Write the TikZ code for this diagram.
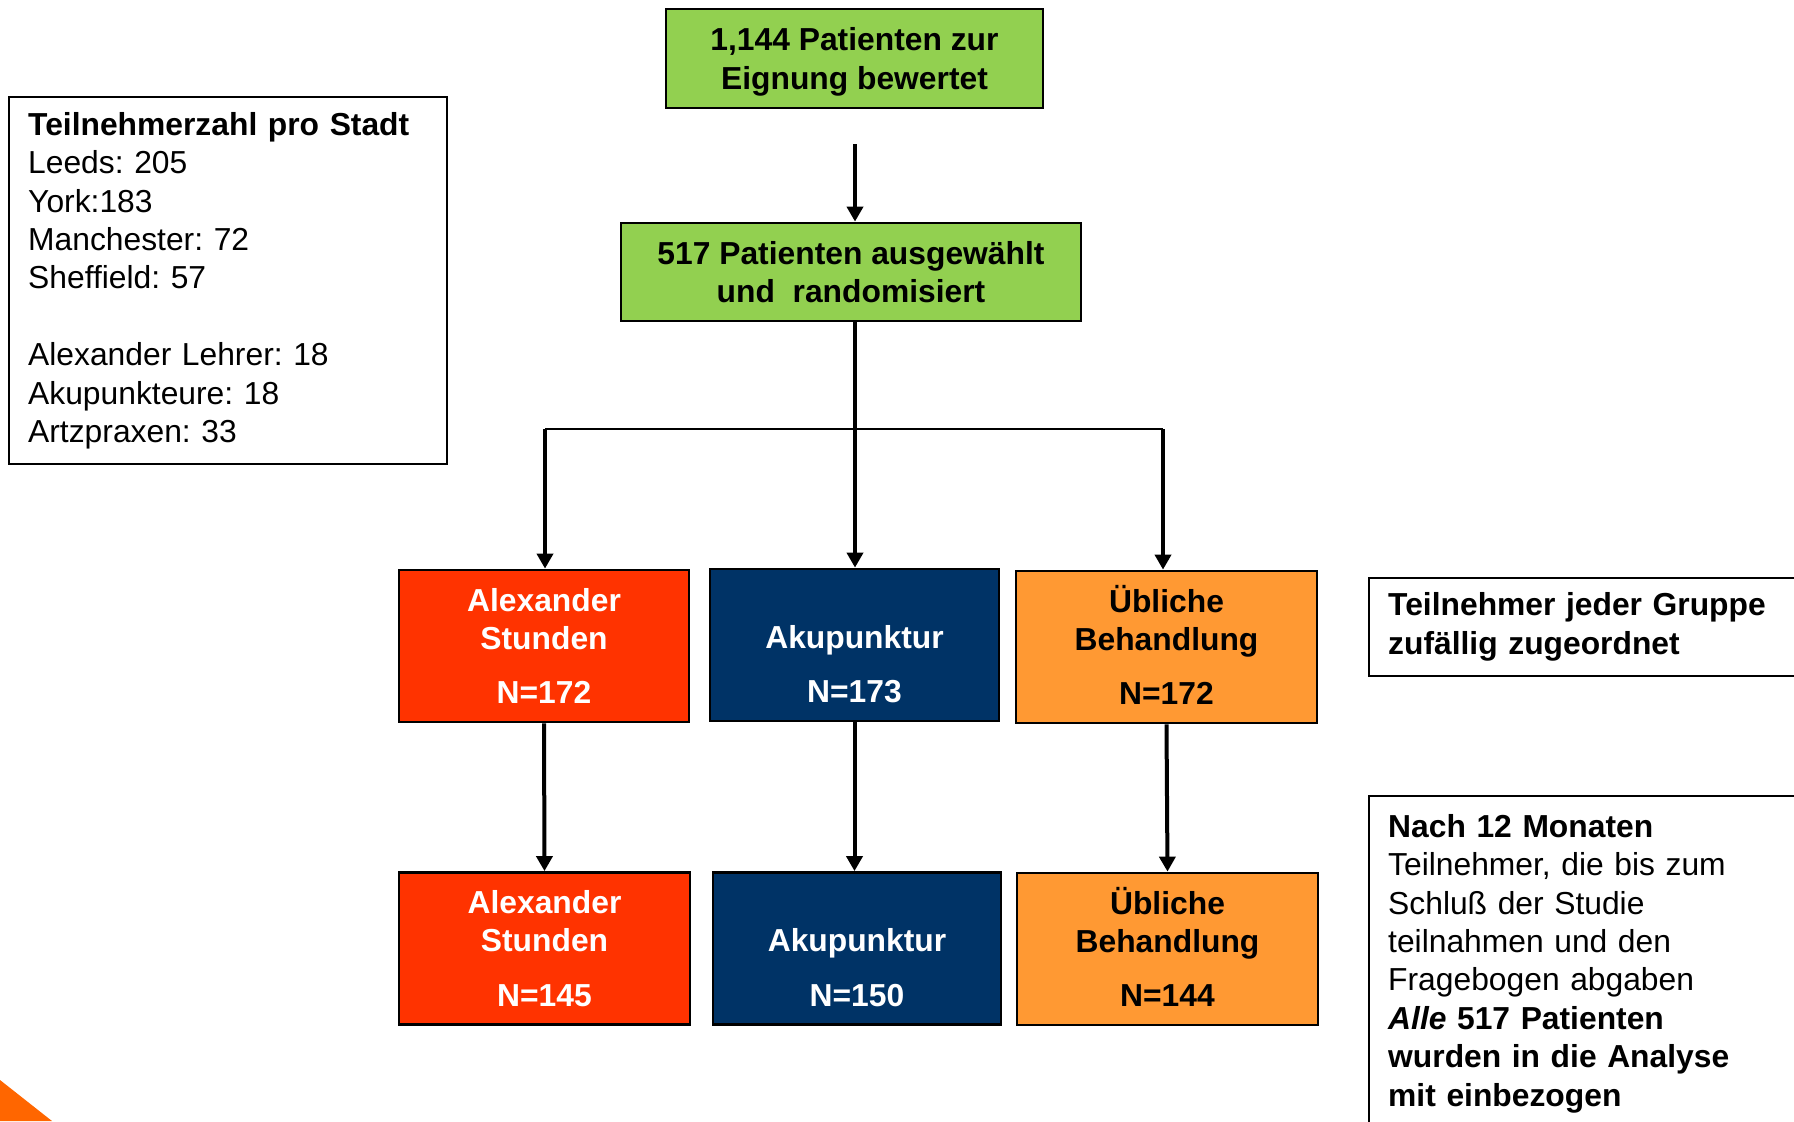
\documentclass[tikz,border=0pt]{standalone}
\usepackage{fontspec}
\setmainfont{Liberation Sans}
\usetikzlibrary{arrows.meta}
\frenchspacing
\definecolor{alexred}{HTML}{FF3300}
\definecolor{akunavy}{HTML}{003366}
\definecolor{usualorange}{HTML}{FF9933}
\definecolor{screengreen}{HTML}{92D050}
\definecolor{cornerorange}{HTML}{FF6600}
\begin{document}
\begin{tikzpicture}[x=0.5pt, y=-0.5pt,
    every node/.style={font=\fontsize{15.9}{19.2}\selectfont},
    greenbox/.style={draw=black, line width=1.4pt, fill=screengreen, align=center,
        inner sep=0pt, font=\fontsize{15.9}{19.2}\selectfont\bfseries},
    armbox/.style={draw=black, line width=1.4pt, align=center, minimum height=76pt,
        inner sep=0pt, font=\fontsize{15.9}{19.2}\selectfont\bfseries},
    notebox/.style={draw=black, line width=1.2pt, align=left, inner xsep=9.5pt},
    flowarrow/.style={line width=2pt, -{Triangle[width=8pt, length=7.5pt]}}]
    \useasboundingbox (0,0) rectangle (1794,1121);
    \fill[cornerorange] (0,1080) -- (52,1121) -- (0,1121) -- cycle;

    \node[greenbox, minimum width=188.5pt, minimum height=49.5pt] (bewertet) at (854.5,58.5)
        {\rule{0pt}{14.8pt}1,144 Patienten zur\\Eignung bewertet};
    \node[greenbox, minimum width=230pt, minimum height=49pt] (randomisiert) at (851,272)
        {517 Patienten ausgewählt\\und\ \ randomisiert};

    \node[notebox, anchor=north west, text width=200pt, minimum height=183.5pt] (stadt) at (8,96)
        {\textbf{Teilnehmerzahl pro Stadt}\\Leeds: 205\\York:183\\Manchester: 72\\Sheffield: 57\\[19.2pt]
         Alexander Lehrer: 18\\Akupunkteure: 18\\Artzpraxen: 33};
    \node[notebox, anchor=west, text width=240pt, minimum height=49pt, font=\fontsize{15.9}{19.2}\selectfont\bfseries] (zufall) at (1368,627)
        {Teilnehmer jeder Gruppe\\zufällig zugeordnet};
    \node[notebox, anchor=north west, text width=240pt, inner ysep=9pt] (monate) at (1368,795)
        {\textbf{Nach 12 Monaten}\\Teilnehmer, die bis zum\\Schluß der Studie\\teilnahmen und den\\Fragebogen abgaben\\
         \textbf{\textit{Alle} 517 Patienten}\\\textbf{wurden in die Analyse}\\\textbf{mit einbezogen}};

    \node[armbox, fill=alexred, text=white, minimum width=145pt] (alex1) at (544,646)
        {Alexander\\Stunden\\[8pt]N=172};
    \node[armbox, fill=akunavy, text=white, minimum width=144.5pt] (akup1) at (854.5,645)
        {\vphantom{Al}\\Akupunktur\\[8pt]N=173};
    \node[armbox, fill=usualorange, minimum width=150.5pt] (ueb1) at (1166.5,647)
        {\smash{Ü}bliche\\Behandlung\\[8pt]N=172};
    \node[armbox, fill=alexred, text=white, minimum width=145.5pt] (alex2) at (544.5,948.5)
        {Alexander\\Stunden\\[8pt]N=145};
    \node[armbox, fill=akunavy, text=white, minimum width=144pt] (akup2) at (857,948.5)
        {\vphantom{Al}\\Akupunktur\\[8pt]N=150};
    \node[armbox, fill=usualorange, minimum width=150.5pt] (ueb2) at (1167.5,949)
        {\smash{Ü}bliche\\Behandlung\\[8pt]N=144};

    \coordinate (start) at (855,144);
    \coordinate (split left) at (545,429);
    \coordinate (split right) at (1163,429);
    \draw[flowarrow] (start) -- (start |- randomisiert.north);
    \draw[flowarrow] (start |- randomisiert.south) -- (start |- akup1.north);
    \draw[line width=1.3pt] (split left) -- (split right);
    \draw[flowarrow] (split left) -- (split left |- alex1.north);
    \draw[flowarrow] (split right) -- (split right |- ueb1.north);
    \draw[flowarrow] (alex1.south) -- (alex2.north);
    \draw[flowarrow] (akup1.south) -- (akup1.south |- akup2.north);
    \draw[flowarrow] (ueb1.south) -- (ueb2.north);
\end{tikzpicture}
\end{document}
